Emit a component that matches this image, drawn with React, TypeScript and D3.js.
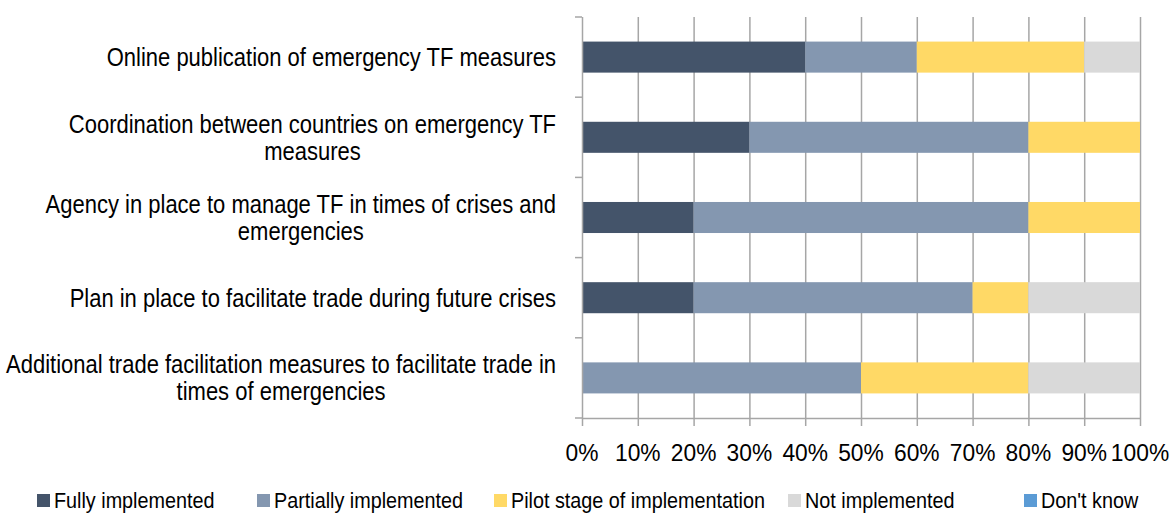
import React, { useEffect, useRef } from "react";
import * as d3 from "d3";

const categories = [
  "Online publication of emergency TF measures",
  "Coordination between countries on emergency TF\nmeasures",
  "Agency in place to manage TF in times of crises and\nemergencies",
  "Plan in place to facilitate trade during future crises",
  "Additional trade facilitation measures to facilitate trade in\ntimes of emergencies",
];
const seriesNames = [
  "Fully implemented",
  "Partially implemented",
  "Pilot stage of implementation",
  "Not implemented",
  "Don't know",
];
const fully = [40, 30, 20, 20, 0];
const partially = [20, 50, 60, 50, 50];
const pilot = [30, 20, 20, 10, 30];
const notImpl = [10, 0, 0, 20, 20];
const dontKnow = [0, 0, 0, 0, 0];
const xTicks = [0, 10, 20, 30, 40, 50, 60, 70, 80, 90, 100];
const colors = ["#44546A", "#8497B0", "#FFD966", "#D9D9D9", "#5B9BD5"];

const W = 1171;
const H = 514;
const FONT = "'Liberation Sans', Arial, sans-serif";

export default function App() {
  const ref = useRef<SVGSVGElement | null>(null);
  useEffect(() => {
    const svg = d3.select(ref.current);
    svg.selectAll("*").remove();
    const left = 582, right = 1140, top = 17, bottom = 418;
    const x = d3.scaleLinear().domain([0, 100]).range([left, right]);
    const y = d3.scaleBand<number>().domain(d3.range(categories.length)).range([top, bottom]).paddingInner(0.613).paddingOuter(0.3065);
    const series = [fully, partially, pilot, notImpl, dontKnow];
    const grey = "#A6A6A6";

    const addText = (parent: any, tx: number, ty: number, s: string, size: number, sx: number, anchor: string) =>
      parent.append("text")
        .attr("transform", `translate(${tx},${ty}) scale(${sx},1)`)
        .attr("dy", "0.36em")
        .attr("text-anchor", anchor)
        .attr("font-family", FONT).attr("font-size", size).attr("fill", "#000")
        .text(s);

    svg.append("g").selectAll("line").data(xTicks.slice(1)).join("line")
      .attr("x1", (d) => x(d) + 0.5).attr("x2", (d) => x(d) + 0.5)
      .attr("y1", top).attr("y2", bottom)
      .attr("stroke", grey).attr("stroke-width", 1.5);

    categories.forEach((_, i) => {
      let acc = 0;
      series.forEach((s, k) => {
        const v = s[i];
        if (v > 0) {
          svg.append("rect")
            .attr("x", x(acc)).attr("width", x(acc + v) - x(acc))
            .attr("y", y(i)!).attr("height", y.bandwidth())
            .attr("fill", colors[k]);
        }
        acc += v;
      });
    });

    const step = (bottom - top) / categories.length;
    svg.append("line").attr("x1", left + 0.5).attr("x2", left + 0.5).attr("y1", top).attr("y2", bottom)
      .attr("stroke", grey).attr("stroke-width", 1.5);
    svg.append("g").selectAll("line").data(d3.range(categories.length + 1)).join("line")
      .attr("x1", left - 7).attr("x2", left)
      .attr("y1", (d) => top + d * step).attr("y2", (d) => top + d * step)
      .attr("stroke", grey).attr("stroke-width", 1.5);

    svg.append("line").attr("x1", left).attr("x2", right).attr("y1", bottom + 0.5).attr("y2", bottom + 0.5)
      .attr("stroke", grey).attr("stroke-width", 1.5);
    svg.append("g").selectAll("line").data(xTicks).join("line")
      .attr("x1", (d) => x(d) + 0.5).attr("x2", (d) => x(d) + 0.5)
      .attr("y1", bottom).attr("y2", bottom + 8)
      .attr("stroke", grey).attr("stroke-width", 1.5);
    const tg = svg.append("g");
    xTicks.forEach((d) => addText(tg, x(d), 452, `${d}%`, 24, 0.95, "middle"));

    categories.forEach((c, i) => {
      const lines = c.split("\n");
      const cy = y(i)! + y.bandwidth() / 2;
      const lh = 27;
      const g = svg.append("g");
      const sx = 0.88;
      const texts = lines.map((ln, j) =>
        addText(g, 0, cy + (j - (lines.length - 1) / 2) * lh, ln, 25, sx, "middle")
      );
      const widths = texts.map((t: any) => (t.node() as SVGTextElement).getComputedTextLength() * sx);
      const maxW = Math.max(...widths);
      const cx = 556 - maxW / 2;
      texts.forEach((t: any, j: number) =>
        t.attr("transform", `translate(${cx},${cy + (j - (lines.length - 1) / 2) * lh}) scale(${sx},1)`)
      );
    });

    const legendX = [37, 257, 494, 788, 1024];
    const lg = svg.append("g");
    seriesNames.forEach((n, k) => {
      lg.append("rect").attr("x", legendX[k]).attr("y", 494).attr("width", 13).attr("height", 13).attr("fill", colors[k]);
      addText(lg, legendX[k] + 17, 500, n, 22, 0.9, "start");
    });
  }, []);
  return (
    <svg ref={ref} width={W} height={H} style={{ position: "absolute", left: 0, top: 0, background: "#fff" }} />
  );
}
